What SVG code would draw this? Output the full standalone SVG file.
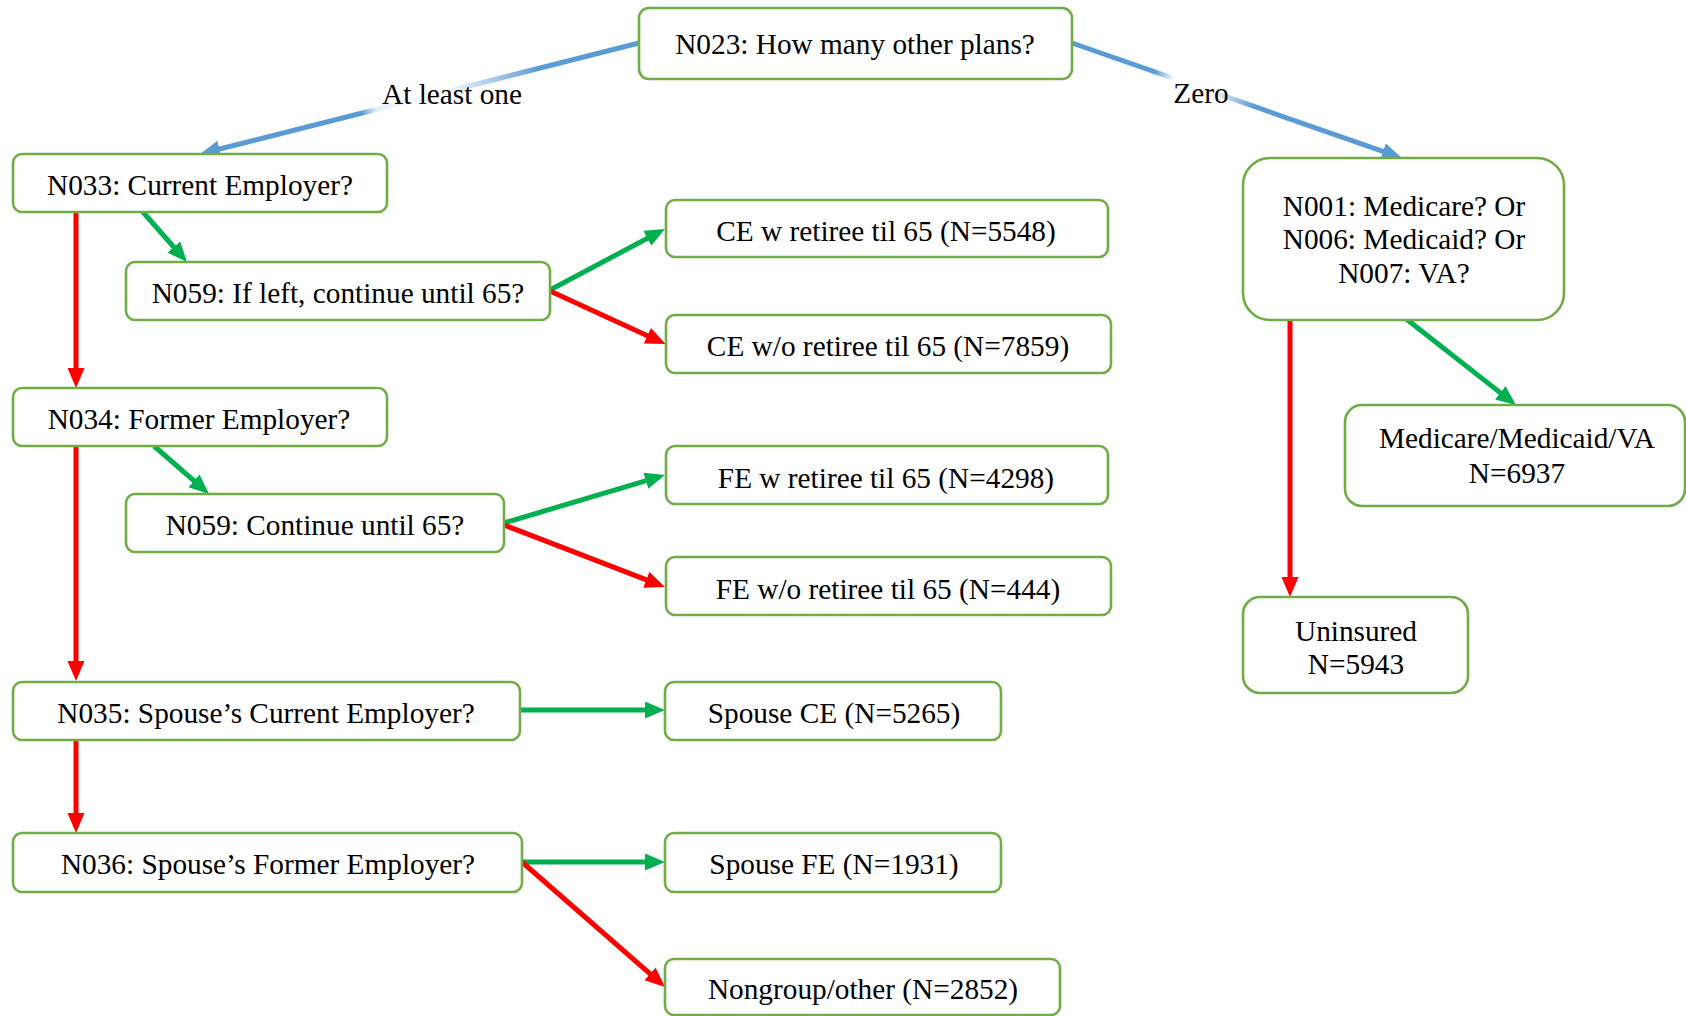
<svg xmlns="http://www.w3.org/2000/svg" width="1686" height="1016" viewBox="0 0 1686 1016">
<style>
.box{fill:#fff;stroke:#70AD47;stroke-width:2.6}
.t{font-family:"Liberation Serif","Times New Roman",serif;font-size:29.3px;fill:#000;text-anchor:middle}
.g{stroke:#00B050;stroke-width:5;fill:none}
.r{stroke:#FF0000;stroke-width:5;fill:none}
.b{stroke-width:5;fill:none}
</style>
<defs>
<marker id="ag" markerUnits="userSpaceOnUse" markerWidth="20" markerHeight="17" refX="12" refY="8.5" orient="auto"><path d="M0,0 L20,8.5 L0,17 z" fill="#00B050"/></marker>
<marker id="ar" markerUnits="userSpaceOnUse" markerWidth="20" markerHeight="17" refX="12" refY="8.5" orient="auto"><path d="M0,0 L20,8.5 L0,17 z" fill="#FF0000"/></marker>
<marker id="ab" markerUnits="userSpaceOnUse" markerWidth="20" markerHeight="17" refX="12" refY="8.5" orient="auto"><path d="M0,0 L20,8.5 L0,17 z" fill="#5B9BD5"/></marker>
<linearGradient id="gl" gradientUnits="userSpaceOnUse" x1="639" y1="43" x2="200" y2="154">
<stop offset="0" stop-color="#5B9BD5"/><stop offset="0.23" stop-color="#5B9BD5"/><stop offset="0.45" stop-color="#ffffff"/><stop offset="0.6" stop-color="#e4eef8"/><stop offset="0.632" stop-color="#5B9BD5"/><stop offset="1" stop-color="#5B9BD5"/>
</linearGradient>
<linearGradient id="gr" gradientUnits="userSpaceOnUse" x1="1072" y1="43" x2="1402" y2="158">
<stop offset="0" stop-color="#5B9BD5"/><stop offset="0.25" stop-color="#5B9BD5"/><stop offset="0.31" stop-color="#ffffff"/><stop offset="0.42" stop-color="#ffffff"/><stop offset="0.55" stop-color="#5B9BD5"/><stop offset="1" stop-color="#5B9BD5"/>
</linearGradient>
</defs>
<rect width="1686" height="1016" fill="#fff"/>
<g id="connectors">
<line class="b" stroke="url(#gl)" x1="639" y1="43" x2="207.8" y2="152" marker-end="url(#ab)"/>
<line class="b" stroke="url(#gr)" x1="1072" y1="43" x2="1394.4" y2="155.4" marker-end="url(#ab)"/>
<line class="g" x1="142" y1="211" x2="181.7" y2="256" marker-end="url(#ag)"/>
<line class="r" x1="76" y1="212" x2="76" y2="380" marker-end="url(#ar)"/>
<line class="g" x1="550" y1="290" x2="657.9" y2="232.7" marker-end="url(#ag)"/>
<line class="r" x1="550" y1="291" x2="658.3" y2="340.7" marker-end="url(#ar)"/>
<line class="g" x1="154" y1="446" x2="203" y2="488.7" marker-end="url(#ag)"/>
<line class="r" x1="76" y1="447" x2="76" y2="673" marker-end="url(#ar)"/>
<line class="g" x1="504" y1="523" x2="657.3" y2="477.3" marker-end="url(#ag)"/>
<line class="r" x1="504" y1="525" x2="657.5" y2="584.1" marker-end="url(#ar)"/>
<line class="g" x1="521" y1="710" x2="657" y2="710" marker-end="url(#ag)"/>
<line class="r" x1="76" y1="740" x2="76" y2="825" marker-end="url(#ar)"/>
<line class="g" x1="522" y1="862" x2="657" y2="862" marker-end="url(#ag)"/>
<line class="r" x1="522" y1="862" x2="659" y2="981.7" marker-end="url(#ar)"/>
<line class="r" x1="1290" y1="320" x2="1290" y2="589" marker-end="url(#ar)"/>
<line class="g" x1="1405" y1="318" x2="1509.7" y2="400.1" marker-end="url(#ag)"/>
<text class="t" x="452" y="104">At least one</text>
<text class="t" x="1201" y="103">Zero</text>
</g>
<g id="n023"><rect class="box" x="639" y="8" width="433" height="71" rx="10"/><text class="t" x="855" y="54">N023: How many other plans?</text></g>
<g id="n033"><rect class="box" x="13" y="154" width="374" height="58" rx="9"/><text class="t" x="200" y="195">N033: Current Employer?</text></g>
<g id="n059a"><rect class="box" x="126" y="262" width="424" height="58" rx="9"/><text class="t" x="338" y="303">N059: If left, continue until 65?</text></g>
<g id="cew"><rect class="box" x="666" y="200" width="442" height="57" rx="9"/><text class="t" x="886" y="241">CE w retiree til 65 (N=5548)</text></g>
<g id="cewo"><rect class="box" x="666" y="315" width="445" height="58" rx="9"/><text class="t" x="888" y="356">CE w/o retiree til 65 (N=7859)</text></g>
<g id="n034"><rect class="box" x="13" y="388" width="374" height="58" rx="9"/><text class="t" x="199" y="429">N034: Former Employer?</text></g>
<g id="n059b"><rect class="box" x="126" y="494" width="378" height="58" rx="9"/><text class="t" x="315" y="535">N059: Continue until 65?</text></g>
<g id="few"><rect class="box" x="666" y="446" width="442" height="58" rx="9"/><text class="t" x="886" y="488">FE w retiree til 65 (N=4298)</text></g>
<g id="fewo"><rect class="box" x="666" y="557" width="445" height="58" rx="9"/><text class="t" x="888" y="599">FE w/o retiree til 65 (N=444)</text></g>
<g id="n035"><rect class="box" x="13" y="682" width="507" height="58" rx="9"/><text class="t" x="266" y="723">N035: Spouse’s Current Employer?</text></g>
<g id="spce"><rect class="box" x="665" y="682" width="336" height="58" rx="9"/><text class="t" x="834" y="723">Spouse CE (N=5265)</text></g>
<g id="n036"><rect class="box" x="13" y="833" width="509" height="59" rx="9"/><text class="t" x="268" y="874">N036: Spouse’s Former Employer?</text></g>
<g id="spfe"><rect class="box" x="665" y="833" width="336" height="59" rx="9"/><text class="t" x="834" y="874">Spouse FE (N=1931)</text></g>
<g id="nongroup"><rect class="box" x="665" y="959" width="395" height="56" rx="9"/><text class="t" x="863" y="999">Nongroup/other (N=2852)</text></g>
<g id="n001"><rect class="box" x="1243" y="158" width="321" height="162" rx="27"/><text class="t" x="1404" y="216">N001: Medicare? Or</text><text class="t" x="1404" y="249">N006: Medicaid? Or</text><text class="t" x="1404" y="283">N007: VA?</text></g>
<g id="mmv"><rect class="box" x="1345" y="405" width="340" height="101" rx="17"/><text class="t" x="1517" y="448">Medicare/Medicaid/VA</text><text class="t" x="1517" y="483">N=6937</text></g>
<g id="uninsured"><rect class="box" x="1243" y="597" width="225" height="96" rx="17"/><text class="t" x="1356" y="641">Uninsured</text><text class="t" x="1356" y="674">N=5943</text></g>
</svg>
